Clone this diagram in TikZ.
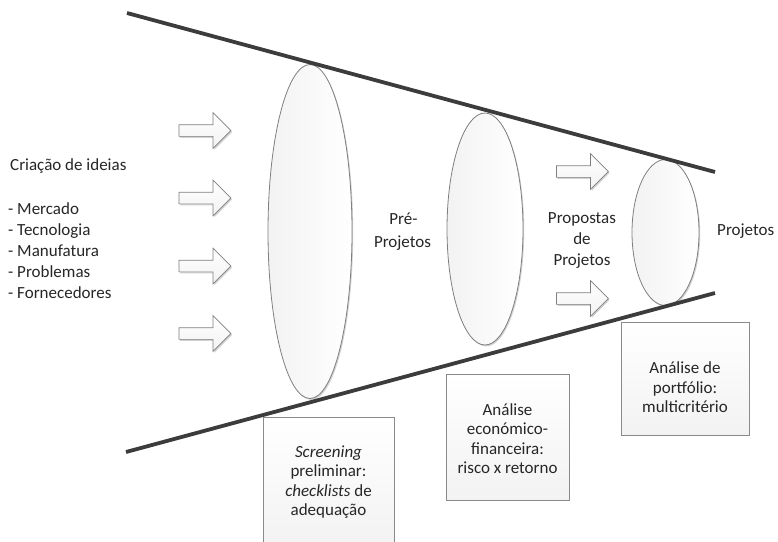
\documentclass[tikz,border=0pt]{standalone}
\usepackage{fontspec}
\setmainfont{Carlito}
\usetikzlibrary{shapes.arrows,shapes.geometric,shadows}

\definecolor{funnelline}{HTML}{3C3C3C}
\definecolor{shapeedge}{HTML}{7F7F7F}
\definecolor{boxedge}{HTML}{8A8A8A}

\tikzset{
  funnel/.style={draw=funnelline, line width=3.8pt},
  softshadow/.style={drop shadow={shadow xshift=1.2pt, shadow yshift=-1.4pt, opacity=0.18, fill=black}},
  stage/.style={ellipse, draw=shapeedge, line width=0.8pt, left color=gray!10, right color=white,
    inner sep=0pt, softshadow},
  flow/.style={single arrow, draw=shapeedge, line width=0.7pt, top color=white, bottom color=gray!10,
    inner sep=0pt, inner ysep=5.5pt, minimum height=52pt, single arrow head extend=12pt, softshadow},
  filterbox/.style={rectangle, draw=boxedge, line width=0.7pt, top color=white, bottom color=gray!10,
    inner sep=0pt, softshadow},
  label/.style={font=\fontsize{17}{21}\selectfont, inner sep=0pt, text=black!85},
  boxtext/.style={font=\fontsize{17}{19.5}\selectfont, inner sep=0pt, align=center, text=black!85},
}

\begin{document}
\begin{tikzpicture}[x=1pt, y=-1pt]
  \path[use as bounding box] (0,0) rectangle (778,541);

  % funnel borders
  \coordinate (tl) at (127,13);
  \coordinate (tr) at (715,172);
  \coordinate (bl) at (126,452);
  \coordinate (br) at (715,293);

  % filtering stages
  \node[stage, minimum width=84pt, minimum height=334pt] (e1) at (310,231.5) {};
  \node[stage, minimum width=76pt, minimum height=232pt] (e2) at (485,229) {};
  \node[stage, minimum width=67pt, minimum height=146pt] (e3) at (665.5,232.5) {};

  \draw[funnel] (tl) -- (tr);
  \draw[funnel] (bl) -- (br);

  % incoming ideas
  \node[flow] (a1) at (202,130.5) {};
  \node[flow] (a2) at (202,198) {};
  \node[flow] (a3) at (202,266) {};
  \node[flow] (a4) at (202,333.5) {};
  \node[flow] (a5) at (579.5,171.5) {};
  \node[flow] (a6) at (579.5,298.5) {};

  % idea sources
  \node[label, anchor=base west] (src) at (10,170.5) {Criação de ideias};
  \node[label, anchor=base west] (s1) at (8,214.5) {- Mercado};
  \node[label, anchor=base west] (s2) at (8,235.5) {- Tecnologia};
  \node[label, anchor=base west] (s3) at (8,256.5) {- Manufatura};
  \node[label, anchor=base west] (s4) at (8,277.5) {- Problemas};
  \node[label, anchor=base west] (s5) at (8,298.5) {- Fornecedores};

  % stage names
  \node[label, anchor=base] (pre1) at (403.5,224) {Pré-};
  \node[label, anchor=base] (pre2) at (402.5,247) {Projetos};
  \node[label, align=center] (prop) at (582,240) {Propostas\\de\\Projetos};
  \node[label, anchor=west] (proj) at (717,231) {Projetos};

  % evaluation boxes
  \node[filterbox, minimum width=131pt, minimum height=130pt] (b1) at (328.5,482) {};
  \node[filterbox, minimum width=123pt, minimum height=126pt] (b2) at (507.5,437) {};
  \node[filterbox, minimum width=128pt, minimum height=113pt] (b3) at (685,378.5) {};

  \node[boxtext] (t1) at (b1.center) {\textit{Screening}\\preliminar:\\\textit{checklists} de\\adequação};
  \node[boxtext] (t2) at (507.5,438.5) {Análise\\económico-\\financeira:\\risco x retorno};
  \node[boxtext] (t3) at (685,387.5) {Análise de\\portfólio:\\multicritério};
\end{tikzpicture}
\end{document}
